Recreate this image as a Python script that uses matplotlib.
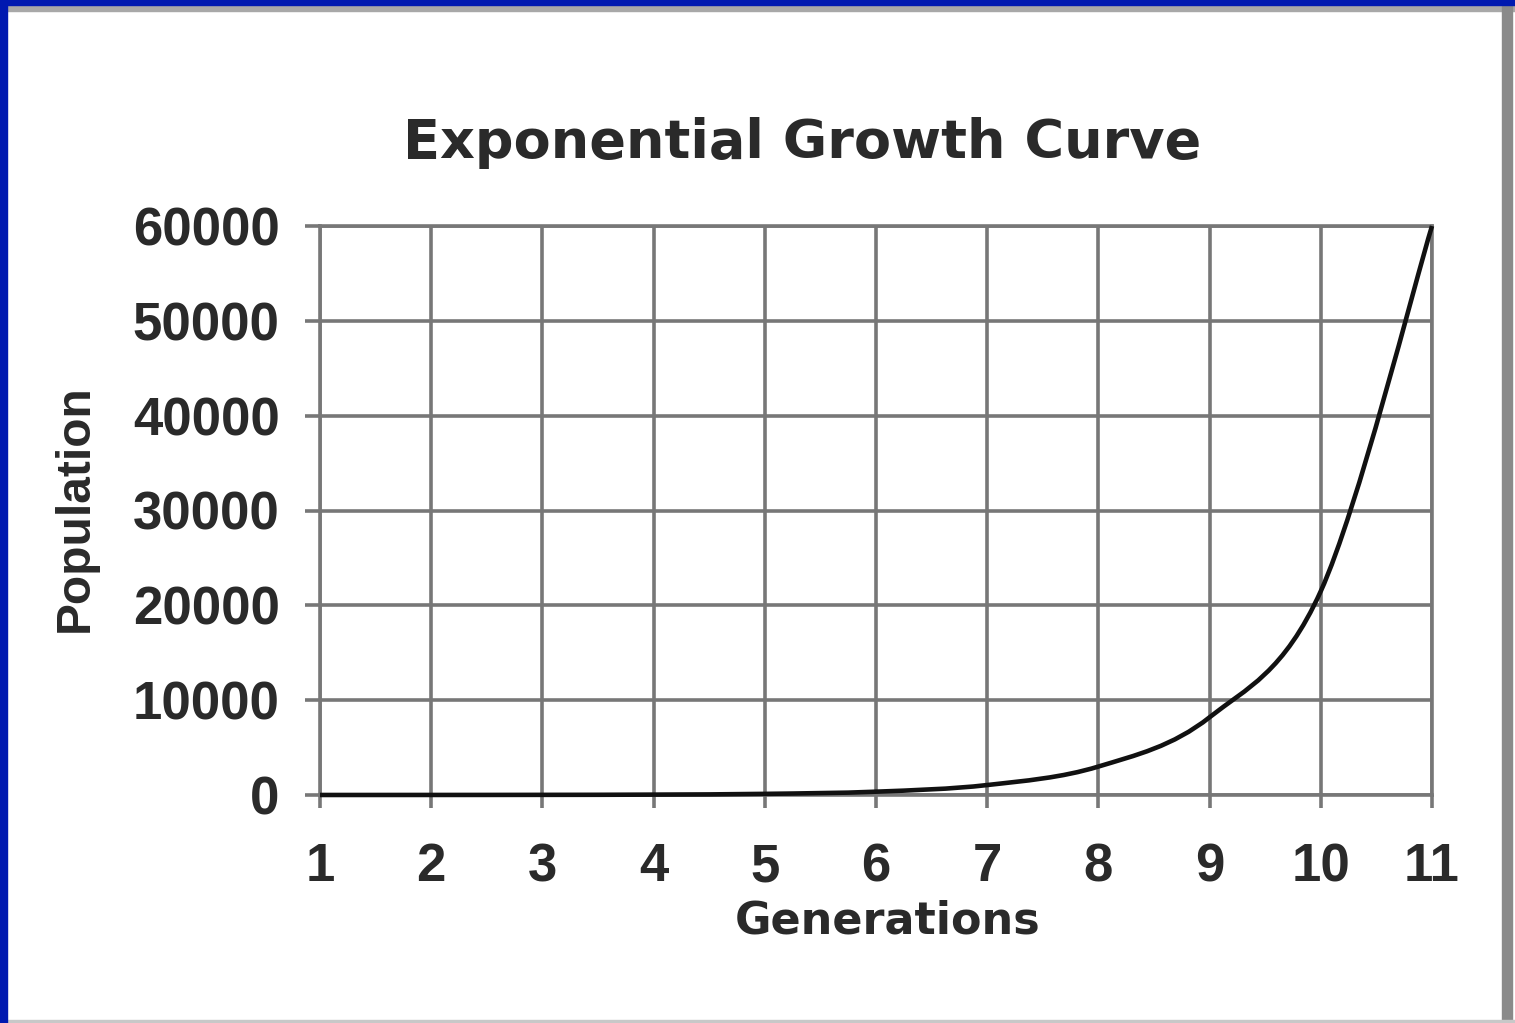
import matplotlib.pyplot as plt
from matplotlib.path import Path
from matplotlib.patches import PathPatch, Rectangle

# Values
generations = [1, 2, 3, 4, 5, 6, 7, 8, 9, 10, 11]
population = [2, 5, 15, 40, 120, 350, 1050, 3000, 8200, 21500, 60000]
y_ticks = [0, 10000, 20000, 30000, 40000, 50000, 60000]

plt.rcParams['font.family'] = ['Liberation Sans', 'DejaVu Sans']
text_color = '#2a2a2a'
grid_color = '#777777'

W, H = 1515, 1023
fig = plt.figure(figsize=(W / 100, H / 100), dpi=100)
fig.patch.set_facecolor('white')
ax = fig.add_axes([320 / W, 1 - 795 / H, 1112 / W, 569 / H])

# Excel-style smoothed line: cubic Bezier segments through the points
verts = [(generations[0], population[0])]
codes = [Path.MOVETO]
n = len(generations)
for i in range(n - 1):
    x0, y0 = generations[max(i - 1, 0)], population[max(i - 1, 0)]
    x1, y1 = generations[i], population[i]
    x2, y2 = generations[i + 1], population[i + 1]
    x3, y3 = generations[min(i + 2, n - 1)], population[min(i + 2, n - 1)]
    verts += [(x1 + (x2 - x0) / 6, y1 + (y2 - y0) / 6),
              (x2 - (x3 - x1) / 6, y2 - (y3 - y1) / 6),
              (x2, y2)]
    codes += [Path.CURVE4] * 3
ax.add_patch(PathPatch(Path(verts, codes), facecolor='none',
                       edgecolor='#111111', lw=3.3, zorder=5, clip_on=False))

ax.set_xlim(1, 11)
ax.set_ylim(0, 60000)
ax.set_xticks(generations)
ax.set_yticks(y_ticks)
ax.grid(True, color=grid_color, lw=2.6)
ax.set_axisbelow(True)
for s in ax.spines.values():
    s.set_color(grid_color)
    s.set_linewidth(2.6)
ax.tick_params(axis='y', length=11, width=2.6, color=grid_color,
               labelsize=38, labelcolor=text_color, pad=18)
ax.tick_params(axis='x', length=9, width=2.6, color=grid_color,
               labelsize=38, labelcolor=text_color, pad=25)
for lab in ax.get_xticklabels() + ax.get_yticklabels():
    lab.set_fontweight('bold')

fig.text(802 / W, 1 - 143 / H, 'Exponential Growth Curve', family='DejaVu Sans',
         fontsize=39, fontweight='bold', color=text_color,
         ha='center', va='center')
fig.text(888 / W, 1 - 934 / H, 'Generations', family='DejaVu Sans',
         fontsize=32, fontweight='bold', color=text_color,
         ha='center', va='baseline')
fig.text(75 / W, 1 - 508 / H, 'Population', fontsize=34.5, fontweight='bold',
         color=text_color, rotation=90, ha='center', va='center')

# frame of the screenshot
fig.add_artist(Rectangle((0, 0), 7 / W, 1, transform=fig.transFigure,
                         color='#0019b0', zorder=10))
fig.add_artist(Rectangle((0, 1 - 5 / H), 1, 5 / H, transform=fig.transFigure,
                         color='#0019b0', zorder=10))
fig.add_artist(Rectangle((7 / W, 1 - 11 / H), 1, 6 / H, transform=fig.transFigure,
                         color='#a8a8a8', zorder=9))
fig.add_artist(Rectangle((1502 / W, 0), 10 / W, 1 - 5 / H,
                         transform=fig.transFigure, color='#8a8a8a', zorder=9))
fig.add_artist(Rectangle((0, 0), 1, 3 / H, transform=fig.transFigure,
                         color='#c8c8c8', zorder=9))

fig.savefig('out.png', dpi=100)
